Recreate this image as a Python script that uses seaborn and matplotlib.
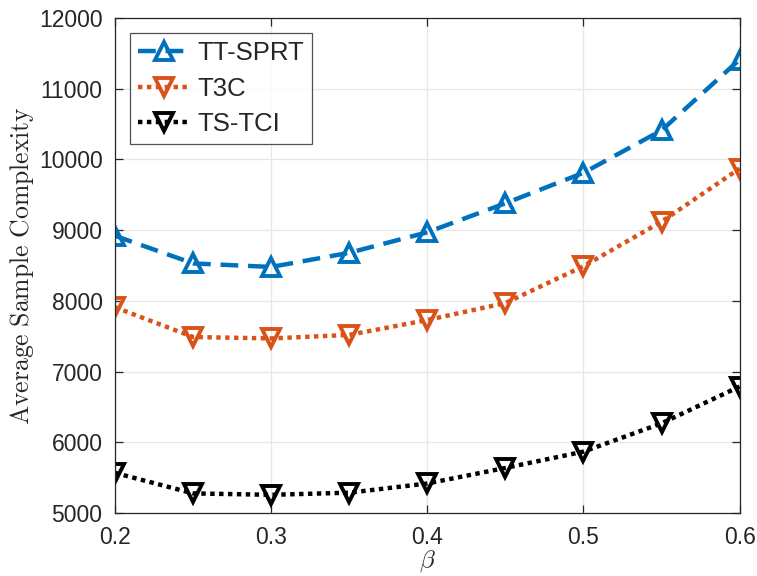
import numpy as np
import pandas as pd
import matplotlib
matplotlib.use("Agg")
import matplotlib.pyplot as plt
import seaborn as sns

beta = [0.2, 0.25, 0.3, 0.35, 0.4, 0.45, 0.5, 0.55, 0.6]
tt_sprt = [8920, 8530, 8480, 8680, 8970, 9380, 9810, 10410, 11410]
t3c = [7910, 7490, 7470, 7520, 7730, 7970, 8490, 9120, 9870]
ts_tci = [5570, 5280, 5260, 5290, 5420, 5640, 5870, 6270, 6790]

series_names = ["TT-SPRT", "T3C", "TS-TCI"]
colors = ["#0072BD", "#D95319", "#000000"]
markers = ["^", "v", "v"]
styles = [(0, (4, 2.2)), (0, (1, 1)), (0, (1, 1))]

sns.set_style("ticks")
plt.rcParams["font.family"] = ["Liberation Sans", "DejaVu Sans"]
plt.rcParams["mathtext.fontset"] = "cm"

fig = plt.figure(figsize=(7.57, 5.76), dpi=100)
ax = fig.add_axes([0.152, 0.109, 0.825, 0.86])

for name, vals, c, m, ls in zip(series_names, [tt_sprt, t3c, ts_tci], colors, markers, styles):
    sns.lineplot(x=beta, y=vals, ax=ax, color=c, marker=m, markersize=13.5,
                 markerfacecolor="none", markeredgecolor=c, markeredgewidth=2.8,
                 linewidth=3.2, linestyle=ls, label=name)

ax.set_xlim(0.2, 0.6)
ax.set_ylim(5000, 12000)
ax.set_xticks([0.2, 0.3, 0.4, 0.5, 0.6])
ax.set_yticks(np.arange(5000, 12001, 1000))
ax.grid(True, color="#e6e6e6", linewidth=0.9)
ax.set_axisbelow(True)
for sp in ax.spines.values():
    sp.set_visible(True)
    sp.set_color("#262626")
    sp.set_linewidth(0.9)
ax.tick_params(direction="in", top=True, right=True, labelsize=16.5,
               colors="#262626", length=6, width=0.9)
ax.tick_params(axis="y", pad=9)
ax.tick_params(axis="x", pad=9)
ax.set_xlabel(r"$\beta$", fontsize=18, color="#262626", labelpad=0)
ax.set_ylabel(r"$\mathrm{Average\ Sample\ Complexity}$", fontsize=18.5,
              color="#262626", labelpad=2)

leg = ax.legend(loc="upper left", fontsize=18.5, frameon=True, fancybox=False,
                edgecolor="#262626", handlelength=2.0, handletextpad=0.3,
                borderpad=0.3, labelspacing=0.45, borderaxespad=0.6)
leg.get_frame().set_linewidth(0.9)

fig.savefig("out.png", dpi=100)
